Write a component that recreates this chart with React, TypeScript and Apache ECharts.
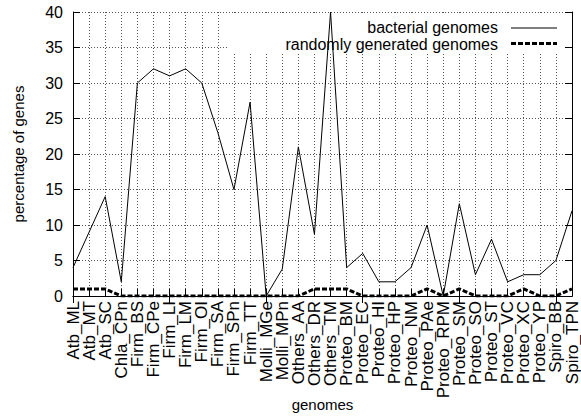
import React, { useEffect, useRef } from "react";
import * as echarts from "echarts";

const categories = [
  "Atb_ML", "Atb_MT", "Atb_SC", "Chla_CPn", "Firm_BS", "Firm_CPe", "Firm_LI", "Firm_LM",
  "Firm_OI", "Firm_SA", "Firm_SPn", "Firm_TT", "Molli_MGe", "Molli_MPn", "Others_AA", "Others_DR",
  "Others_TM", "Proteo_BM", "Proteo_EC", "Proteo_HI", "Proteo_HP", "Proteo_NM", "Proteo_PAe", "Proteo_RPM",
  "Proteo_SM", "Proteo_SO", "Proteo_ST", "Proteo_VC", "Proteo_XC", "Proteo_YP", "Spiro_BB", "Spiro_TPN",
];

const bacterialGenomes = [
  4, 9, 14, 2, 30, 32, 31, 32,
  30, 23, 15, 27.3, 0, 3.8, 21, 8.7,
  40, 4, 6, 2, 2, 4, 10, 0,
  13, 3, 8, 2, 3, 3, 5, 12,
];

const randomGenomes = [
  1, 1, 1, 0, 0, 0, 0, 0,
  0, 0, 0, 0, 0, 0, 0, 1,
  1, 1, 0, 0, 0, 0, 1, 0,
  1, 0, 0, 0, 1, 0, 0, 1,
];

const seriesNames = ["bacterial genomes", "randomly generated genomes"];
const yTicks = { min: 0, max: 40, interval: 5 };

const FONT = "'Liberation Sans', Arial, Helvetica, sans-serif";

export default function App() {
  const ref = useRef<HTMLDivElement>(null);

  useEffect(() => {
    if (!ref.current) return;
    const chart = echarts.init(ref.current, undefined, { renderer: "svg" });
    const gridLine = { show: true, lineStyle: { color: "#555", width: 1, type: [1, 2] as any } };
    const axisLineStyle = { color: "#000", width: 1 };
    chart.setOption({
      animation: false,
      backgroundColor: "#fff",
      textStyle: { fontFamily: FONT, color: "#000" },
      grid: { left: 73, right: 9, top: 12, bottom: 121, containLabel: false, outerBoundsMode: "none" },
      xAxis: [
        {
          type: "category",
          data: categories,
          position: "bottom",
          boundaryGap: false,
          name: "genomes",
          nameLocation: "middle",
          nameGap: 101,
          nameMoveOverlap: false,
          nameTextStyle: { fontSize: 15, lineHeight: 15, color: "#000", fontFamily: FONT },
          axisLine: { show: true, lineStyle: axisLineStyle },
          axisTick: { show: true, inside: true, length: 7, lineStyle: axisLineStyle },
          axisLabel: { interval: 0, rotate: 90, margin: 5, fontSize: 17, color: "#000", fontFamily: FONT },
          splitLine: gridLine,
        },
        {
          type: "category",
          data: categories,
          position: "top",
          boundaryGap: false,
          z: 5,
          axisLine: { show: true, lineStyle: axisLineStyle },
          axisTick: { show: true, inside: true, length: 7, lineStyle: axisLineStyle },
          axisLabel: { show: false },
          splitLine: { show: false },
        },
      ],
      yAxis: [
        {
          type: "value",
          position: "left",
          min: yTicks.min,
          max: yTicks.max,
          interval: yTicks.interval,
          name: "percentage of genes",
          nameLocation: "middle",
          nameGap: 47,
          nameMoveOverlap: false,
          nameTextStyle: { fontSize: 15, color: "#000", fontFamily: FONT },
          axisLine: { show: true, lineStyle: axisLineStyle },
          axisTick: { show: true, inside: true, length: 7, lineStyle: axisLineStyle },
          axisLabel: { margin: 10, fontSize: 16, color: "#000", fontFamily: FONT },
          splitLine: gridLine,
        },
        {
          type: "value",
          position: "right",
          min: yTicks.min,
          max: yTicks.max,
          interval: yTicks.interval,
          z: 5,
          axisLine: { show: true, lineStyle: axisLineStyle },
          axisTick: { show: true, inside: true, length: 7, lineStyle: axisLineStyle },
          axisLabel: { show: false },
          splitLine: { show: false },
        },
      ],
      graphic: [
        {
          type: "rect",
          z: 1,
          shape: { x: 228, y: 13, width: 343, height: 39 },
          style: { fill: "#fff" },
          silent: true,
        },
        {
          type: "text",
          z: 10,
          x: 498,
          y: 27,
          style: { text: seriesNames[0], align: "right", verticalAlign: "middle", fontSize: 16, lineHeight: 16, fontFamily: FONT, fill: "#000" },
        },
        {
          type: "text",
          z: 10,
          x: 498,
          y: 44,
          style: { text: seriesNames[1], align: "right", verticalAlign: "middle", fontSize: 16, lineHeight: 16, fontFamily: FONT, fill: "#000" },
        },
        {
          type: "line",
          z: 10,
          shape: { x1: 511, y1: 28, x2: 557, y2: 28 },
          style: { stroke: "#000", lineWidth: 1 },
        },
        {
          type: "line",
          z: 10,
          shape: { x1: 511, y1: 43.5, x2: 557, y2: 43.5 },
          style: { stroke: "#000", lineWidth: 3, lineDash: [5, 2] },
        },
      ],
      series: [
        {
          name: seriesNames[0],
          type: "line",
          data: bacterialGenomes,
          symbol: "none",
          z: 3,
          lineStyle: { color: "#000", width: 1 },
          itemStyle: { color: "#000" },
        },
        {
          name: seriesNames[1],
          type: "line",
          data: randomGenomes,
          symbol: "none",
          z: 3,
          lineStyle: { color: "#000", width: 3, type: [5, 2] },
          itemStyle: { color: "#000" },
        },
      ],
    });
    return () => chart.dispose();
  }, []);

  return (
    <div
      ref={ref}
      style={{ position: "fixed", left: 0, top: 0, width: 581, height: 417, background: "#fff" }}
    />
  );
}
